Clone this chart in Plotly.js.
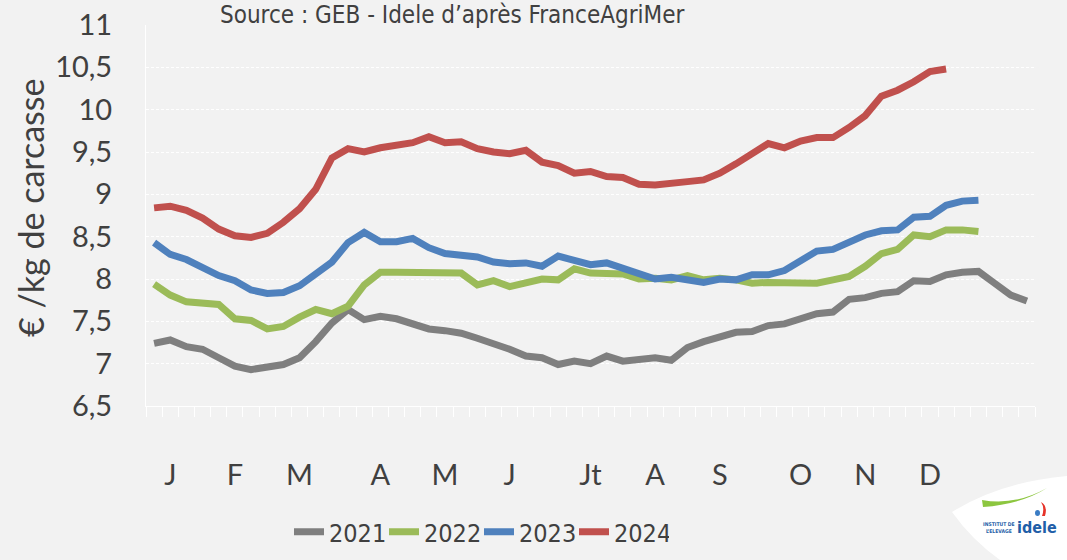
<!DOCTYPE html>
<html>
<head>
<meta charset="utf-8">
<script src="https://cdn.plot.ly/plotly-3.0.1.min.js"></script>
<style>
  html, body { margin: 0; padding: 0; background: #f2f2f2; }
  #chart { width: 1067px; height: 560px; }
</style>
</head>
<body>
<div id="chart"></div>
<script>
// ---- Data (weekly prices, €/kg carcass) ----
const years = ['2021', '2022', '2023', '2024'];
const colors = ['#7f7f7f', '#9bbb59', '#4f81bd', '#c0504d'];

const y2021 = [7.24,7.28,7.20,7.17,7.07,6.97,6.93,6.95,6.99,7.07,7.26,7.48,7.64,7.52,7.56,7.53,7.47,7.41,7.39,7.36,7.30,7.24,7.17,7.09,7.07,6.99,7.03,7.00,
               7.09,7.03,7.05,7.07,7.04,7.19,7.26,7.31,7.37,7.38,7.45,7.47,7.54,7.59,7.61,7.76,7.78,7.83,7.85,7.98,7.97,8.05,8.08,8.09,7.95,7.81,7.74];
const y2022 = [7.94,7.81,7.73,7.72,7.70,7.53,7.51,7.41,7.44,7.55,7.64,7.59,7.68,7.93,8.08,8.08,8.08,8.08,8.07,8.07,7.93,7.98,7.91,7.95,8.00,7.99,8.12,8.07,
               8.07,8.06,8.00,8.01,7.99,8.04,7.99,8.01,7.99,7.95,7.96,7.95,7.94,7.95,7.99,8.03,8.15,8.30,8.35,8.52,8.50,8.58,8.58,8.56];
const y2023 = [8.43,8.29,8.23,8.14,8.04,7.98,7.87,7.83,7.84,7.92,8.06,8.20,8.43,8.55,8.44,8.44,8.48,8.37,8.30,8.29,8.26,8.20,8.18,8.19,8.15,8.27,8.22,8.17,
               8.19,8.13,8.07,8.00,8.02,8.00,7.96,8.00,7.99,8.05,8.05,8.10,8.21,8.33,8.35,8.43,8.52,8.57,8.58,8.73,8.74,8.87,8.92,8.93];
const y2024 = [8.84,8.86,8.81,8.72,8.59,8.51,8.49,8.54,8.67,8.83,9.06,9.43,9.54,9.50,9.55,9.59,9.61,9.68,9.61,9.62,9.54,9.50,9.48,9.52,9.38,9.34,9.25,9.27,
               9.21,9.20,9.12,9.11,9.14,9.15,9.17,9.25,9.36,9.48,9.60,9.55,9.63,9.67,9.67,9.79,9.93,10.16,10.23,10.33,10.45,10.48];
const series = [y2021, y2022, y2023, y2024];

// Month labels and the week slot where each is placed
const monthLabels = ['J','F','M','A','M','J','Jt','A','S','O','N','D'];
const monthWeeks  = [1, 5, 9, 14, 18, 22, 27, 31, 35, 40, 44, 48];
const nWeeks = 55;

const yTitle = '€ /kg de carcasse';
const sourceText = 'Source : GEB - Idele d\u2019après FranceAgriMer';

const textColor = '#404040';
const narrow = '"Liberation Sans Narrow", "DejaVu Sans Condensed", "Roboto Condensed", Roboto, sans-serif';
const mainFont = 'Lato, "Open Sans", sans-serif';

const traces = series.map((vals, k) => ({
  type: 'scatter',
  mode: 'lines',
  name: years[k],
  x: vals.map((_, i) => i),
  y: vals,
  line: { color: colors[k], width: 7, shape: 'linear' },
  hoverinfo: 'skip'
}));

// plot-area pixel helpers for decorative placement
const L = 146, T = 25, W = 889, H = 381;
const px = x => (x - L) / W;
const py = y => (T + H - y) / H;

const logoPath = 'M ' + px(952) + ' ' + py(512) +
  ' Q ' + px(1000) + ' ' + py(482) + ' ' + px(1067) + ' ' + py(476) +
  ' L ' + px(1067) + ' ' + py(560) +
  ' L ' + px(1000) + ' ' + py(560) +
  ' Q ' + px(972) + ' ' + py(540) + ' ' + px(952) + ' ' + py(512) + ' Z';

const swoosh = 'M ' + px(982) + ' ' + py(500) +
  ' Q ' + px(1015) + ' ' + py(506) + ' ' + px(1047) + ' ' + py(488) +
  ' Q ' + px(1022) + ' ' + py(504) + ' ' + px(983) + ' ' + py(507) + ' Z';

const layout = {
  width: 1067,
  height: 560,
  margin: { l: L, r: 1067 - L - W, t: T, b: 560 - T - H, pad: 0 },
  paper_bgcolor: '#f2f2f2',
  plot_bgcolor: '#f2f2f2',
  separators: ', ',
  showlegend: true,
  legend: {
    orientation: 'h',
    xref: 'container', yref: 'container',
    x: 479 / 1067, xanchor: 'center',
    y: 1 - 532 / 560, yanchor: 'middle',
    font: { family: narrow, size: 25, color: textColor },
    bgcolor: 'rgba(0,0,0,0)',
    entrywidth: 50,
    entrywidthmode: 'pixels',
    itemclick: false,
    tracegroupgap: 0
  },
  xaxis: {
    range: [-0.5, nWeeks - 0.5],
    tickmode: 'array',
    tickvals: monthWeeks,
    ticktext: monthLabels,
    ticks: 'outside',
    ticklen: 43,
    tickcolor: 'rgba(0,0,0,0)',
    tickfont: { family: mainFont, size: 29, color: textColor },
    showgrid: false,
    zeroline: false,
    showline: true,
    linecolor: '#ffffff',
    linewidth: 1,
    automargin: false,
    minor: {
      tickmode: 'linear',
      tick0: -0.5,
      dtick: 1,
      ticks: 'outside',
      ticklen: 10,
      tickwidth: 1,
      tickcolor: '#ffffff',
      showgrid: false
    },
    fixedrange: true
  },
  yaxis: {
    range: [6.5, 11],
    dtick: 0.5,
    tick0: 6.5,
    ticks: 'outside',
    ticklen: 27,
    tickcolor: 'rgba(0,0,0,0)',
    tickfont: { family: mainFont, size: 29, color: textColor },
    showgrid: true,
    gridcolor: '#ffffff',
    griddash: '3px,2px',
    gridwidth: 1,
    zeroline: false,
    showline: true,
    linecolor: '#ffffff',
    linewidth: 1,
    automargin: false,
    fixedrange: true
  },
  annotations: [
    {
      text: yTitle,
      xref: 'paper', yref: 'paper',
      x: px(30), y: py(208),
      xanchor: 'center', yanchor: 'middle',
      textangle: -90,
      showarrow: false,
      font: { family: mainFont, size: 34, color: textColor }
    },
    {
      text: sourceText,
      xref: 'paper', yref: 'paper',
      x: px(452), y: py(0),
      xanchor: 'center', yanchor: 'top',
      showarrow: false,
      borderpad: 0,
      font: { family: narrow, size: 24, color: textColor }
    },
    {
      text: '<b>idele</b>',
      xref: 'paper', yref: 'paper',
      x: px(1037), y: py(527),
      xanchor: 'center', yanchor: 'middle',
      showarrow: false,
      font: { family: narrow, size: 16, color: '#1f5fa8' }
    },
    {
      text: '<b>INSTITUT DE<br>L\u2019ELEVAGE</b>',
      xref: 'paper', yref: 'paper',
      x: px(999), y: py(527),
      xanchor: 'center', yanchor: 'middle',
      showarrow: false,
      font: { family: narrow, size: 5, color: '#1f5fa8' }
    }
  ],
  shapes: [
    {
      type: 'path', xref: 'paper', yref: 'paper',
      path: logoPath,
      fillcolor: '#ffffff', line: { width: 0 }, layer: 'below'
    },
    {
      type: 'path', xref: 'paper', yref: 'paper',
      path: swoosh,
      fillcolor: '#8cc63f', line: { width: 0 }, layer: 'above'
    },
    {
      type: 'path', xref: 'paper', yref: 'paper',
      path: 'M ' + px(1041) + ' ' + py(502) + ' Q ' + px(1048) + ' ' + py(506) + ' ' + px(1045) + ' ' + py(516) +
            ' L ' + px(1042) + ' ' + py(516) + ' Q ' + px(1045) + ' ' + py(508) + ' ' + px(1041) + ' ' + py(502) + ' Z',
      fillcolor: '#e63329', line: { width: 0 }, layer: 'above'
    },
    {
      type: 'circle', xref: 'paper', yref: 'paper',
      x0: px(1035), x1: px(1040), y0: py(516), y1: py(510),
      fillcolor: '#3a7cc4', line: { width: 0 }, layer: 'above'
    }
  ]
};

Plotly.newPlot('chart', traces, layout, { displayModeBar: false, staticPlot: true });
</script>
</body>
</html>
